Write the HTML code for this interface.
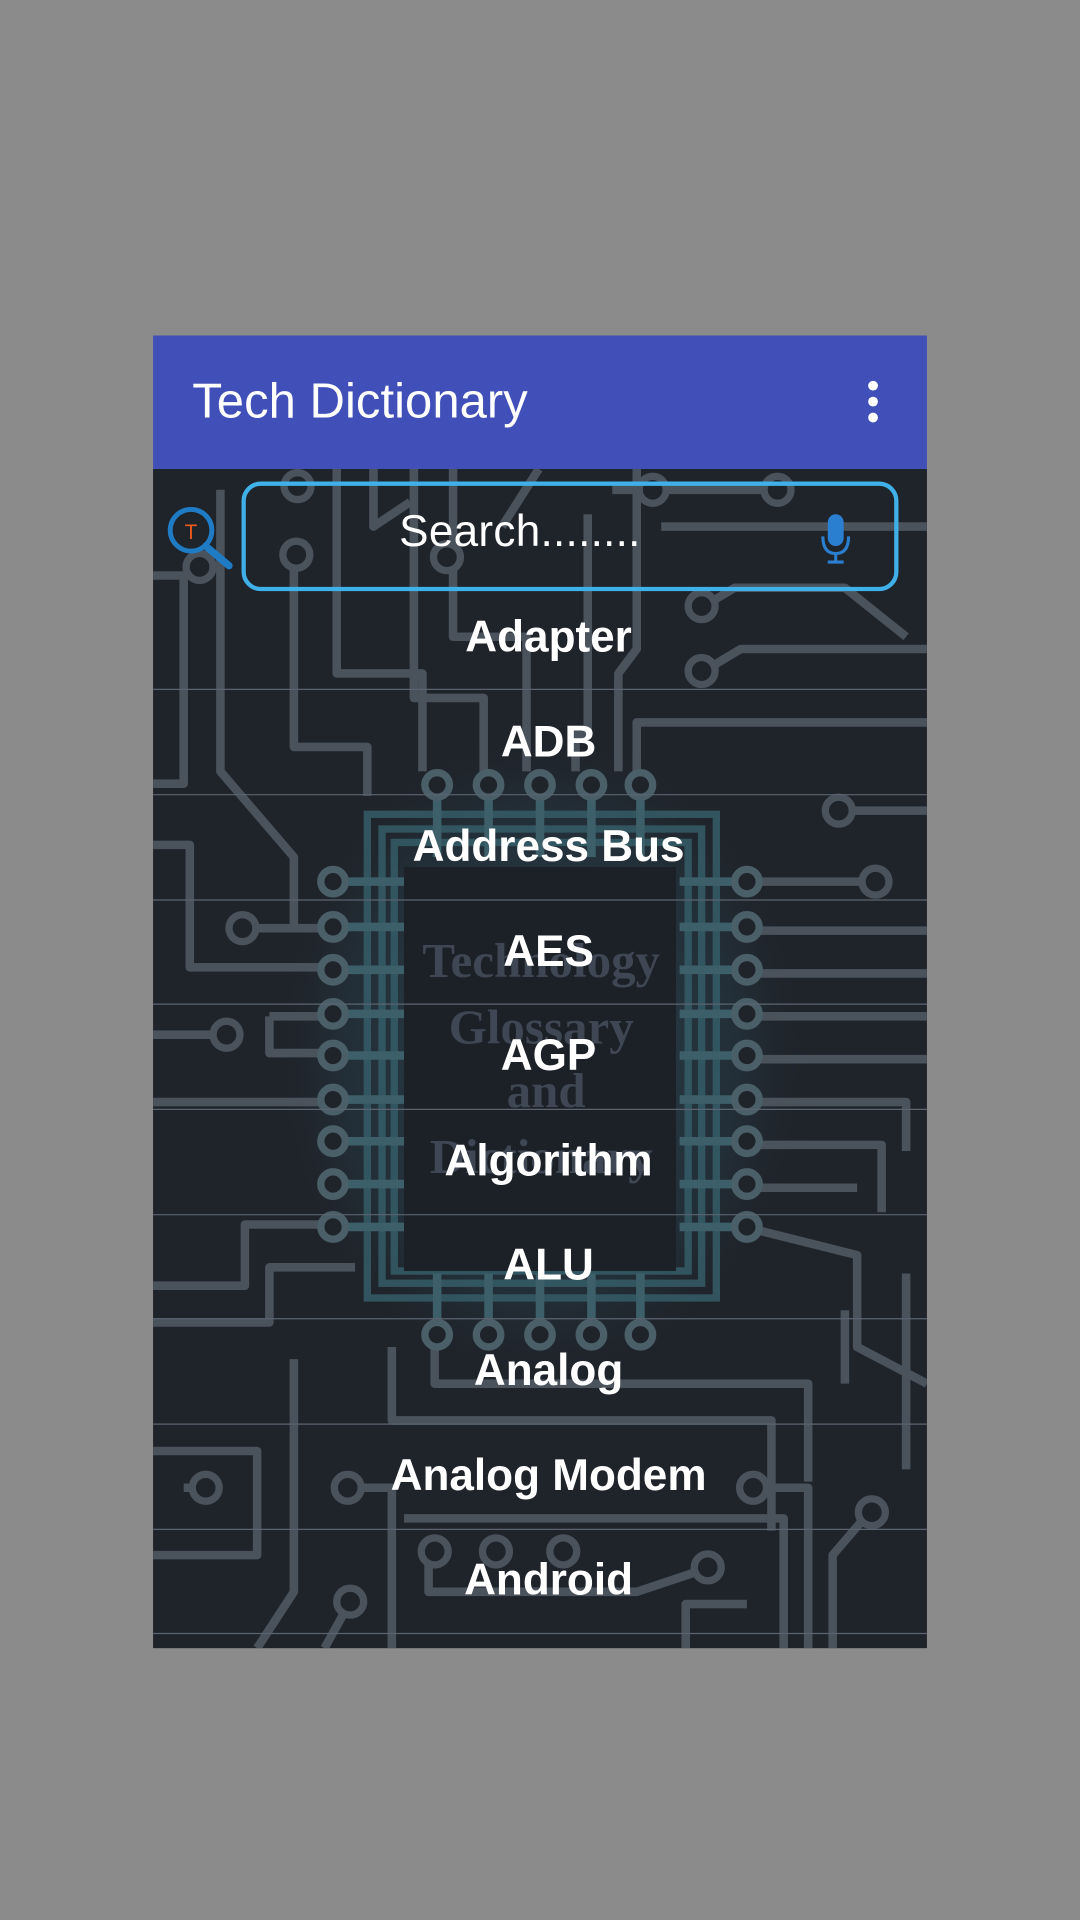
<!DOCTYPE html>
<html><head><meta charset="utf-8"><style>
html,body{margin:0;padding:0;width:1080px;height:1920px;background:#8a8b8a;overflow:hidden}
svg{display:block}
</style></head><body>
<svg width="1080" height="1920" viewBox="0 0 882 1568" xmlns="http://www.w3.org/2000/svg">
<defs>
<radialGradient id="glow" cx="50%" cy="50%" r="50%">
<stop offset="0" stop-color="#3a6a7a" stop-opacity="0.45"/>
<stop offset="0.7" stop-color="#2b4a58" stop-opacity="0.3"/>
<stop offset="1" stop-color="#1f232a" stop-opacity="0"/>
</radialGradient>
<clipPath id="c"><rect x="125" y="383" width="632" height="963"/></clipPath>
</defs>
<rect x="0" y="0" width="882" height="1568" fill="#8a8b8a"/>
<rect x="125" y="383" width="632" height="963" fill="#1f232a"/>
<g clip-path="url(#c)">
<ellipse cx="442" cy="862" rx="230" ry="280" fill="url(#glow)"/>
<g fill="none" stroke="#4a525c" stroke-width="7" stroke-linejoin="round">
<path d="M125 470 H150 V640 H125"/>
<path d="M180 400 V630 L240 700 V760"/>
<path d="M240 460 V610 H300 V650"/>
<path d="M275 383 V550 H345 V630"/>
<path d="M305 383 V430 L335 410"/>
<path d="M338 383 V570 H395 V630"/>
<path d="M370 383 V520 H430 V630"/>
<path d="M440 383 L410 430"/>
<path d="M480 420 V600 H470 V630"/>
<path d="M520 383 V530 L505 550 V630"/>
<path d="M500 400 H640"/>
<path d="M540 430 H757"/>
<path d="M575 495 L600 480 H690 L740 520"/>
<path d="M575 548 L605 530 H757"/>
<path d="M520 630 V590 H757"/>
<path d="M125 690 H155 V790 H260"/>
<path d="M200 758 H270"/>
<path d="M125 845 H180"/>
<path d="M220 830 H270 M220 830 V860 H270"/>
<path d="M125 900 H270"/>
<path d="M125 1050 H200 V1000 H270"/>
<path d="M125 1080 H220 V1035 H290"/>
<path d="M685 662 H757"/>
<path d="M620 720 H715"/>
<path d="M620 760 H757"/>
<path d="M620 795 H757"/>
<path d="M620 830 H757"/>
<path d="M620 865 H757"/>
<path d="M620 900 H740 V940"/>
<path d="M620 935 H720 V990"/>
<path d="M620 970 H700"/>
<path d="M620 1005 L700 1025 V1100 L757 1130"/>
<path d="M740 1040 V1200"/>
<path d="M690 1070 V1130"/>
<path d="M355 1100 V1130 H660 V1210"/>
<path d="M320 1100 V1160 H630 V1250"/>
<path d="M125 1185 H210 V1270 H125"/>
<path d="M150 1215 H170"/>
<path d="M240 1110 V1300 L210 1346"/>
<path d="M280 1215 H320 V1346"/>
<path d="M330 1240 H640 V1346"/>
<path d="M350 1265 V1300 H520 L580 1280"/>
<path d="M615 1215 H660 V1346"/>
<path d="M710 1235 L680 1270 V1346"/>
<path d="M285 1310 L265 1346"/>
<path d="M560 1346 V1310 H610"/>
</g>
<g fill="#1f232a" stroke="#4a525c" stroke-width="6">
<circle cx="242" cy="453" r="11"/><circle cx="163" cy="463" r="11"/><circle cx="243" cy="397" r="11"/>
<circle cx="365" cy="455" r="11"/><circle cx="533" cy="400" r="11"/><circle cx="635" cy="400" r="11"/>
<circle cx="573" cy="495" r="11"/><circle cx="573" cy="548" r="11"/><circle cx="685" cy="662" r="11"/>
<circle cx="715" cy="720" r="11"/><circle cx="198" cy="758" r="11"/><circle cx="185" cy="845" r="11"/>
<circle cx="168" cy="1215" r="11"/><circle cx="284" cy="1215" r="11"/><circle cx="615" cy="1215" r="11"/>
<circle cx="712" cy="1235" r="11"/><circle cx="355" cy="1267" r="11"/><circle cx="405" cy="1267" r="11"/>
<circle cx="460" cy="1267" r="11"/><circle cx="578" cy="1280" r="11"/><circle cx="286" cy="1308" r="11"/>
</g>
<g fill="none" stroke="#36606b" stroke-width="6" opacity="0.8">
<rect x="300" y="665" width="285" height="395"/>
<rect x="312" y="677" width="261" height="371"/>
<rect x="322" y="688" width="240" height="350"/>
</g>
<g stroke="#3d5f69" stroke-width="7">
<path d="M272 720 H330 M272 757 H330 M272 792 H330 M272 828 H330 M272 862 H330 M272 898 H330 M272 932 H330 M272 967 H330 M272 1002 H330"/>
<path d="M555 720 H610 M555 757 H610 M555 792 H610 M555 828 H610 M555 862 H610 M555 898 H610 M555 932 H610 M555 967 H610 M555 1002 H610"/>
<path d="M357 641 V700 M399 641 V700 M441 641 V700 M483 641 V700 M523 641 V700"/>
<path d="M357 1040 V1090 M399 1040 V1090 M441 1040 V1090 M483 1040 V1090 M523 1040 V1090"/>
</g>
<g fill="#1f232a" stroke="#4a5f68" stroke-width="6">
<circle cx="272" cy="720" r="10"/><circle cx="272" cy="757" r="10"/><circle cx="272" cy="792" r="10"/><circle cx="272" cy="828" r="10"/><circle cx="272" cy="862" r="10"/><circle cx="272" cy="898" r="10"/><circle cx="272" cy="932" r="10"/><circle cx="272" cy="967" r="10"/><circle cx="272" cy="1002" r="10"/>
<circle cx="610" cy="720" r="10"/><circle cx="610" cy="757" r="10"/><circle cx="610" cy="792" r="10"/><circle cx="610" cy="828" r="10"/><circle cx="610" cy="862" r="10"/><circle cx="610" cy="898" r="10"/><circle cx="610" cy="932" r="10"/><circle cx="610" cy="967" r="10"/><circle cx="610" cy="1002" r="10"/>
<circle cx="357" cy="641" r="10"/><circle cx="399" cy="641" r="10"/><circle cx="441" cy="641" r="10"/><circle cx="483" cy="641" r="10"/><circle cx="523" cy="641" r="10"/>
<circle cx="357" cy="1090" r="10"/><circle cx="399" cy="1090" r="10"/><circle cx="441" cy="1090" r="10"/><circle cx="483" cy="1090" r="10"/><circle cx="523" cy="1090" r="10"/>
</g>
<rect x="330" y="708" width="222" height="330" fill="#1c2027"/>
<g font-family="'Liberation Serif',serif" font-weight="bold" font-size="40" fill="#3e4753" text-anchor="middle">
<text x="442" y="798">Technology</text>
<text x="442" y="852">Glossary</text>
<text x="446" y="904">and</text>
<text x="442" y="958">Dictionary</text>
</g>
<g stroke="#5a6470" stroke-width="1">
<path d="M125 563 H757 M125 649 H757 M125 735 H757 M125 820 H757 M125 906 H757 M125 992 H757 M125 1077 H757 M125 1163 H757 M125 1249 H757 M125 1334 H757"/>
</g>
</g>
<rect x="125" y="274" width="632" height="109" fill="#4150b8"/>
<text x="157" y="341" font-family="'Liberation Sans',sans-serif" font-size="40" fill="#ffffff" textLength="274">Tech Dictionary</text>
<circle cx="713" cy="315" r="4" fill="#fff"/><circle cx="713" cy="328" r="4" fill="#fff"/><circle cx="713" cy="341" r="4" fill="#fff"/>
<rect x="199" y="395" width="533" height="86" rx="14" fill="none" stroke="#3fb0e8" stroke-width="3.5"/>
<text x="326" y="446" font-family="'Liberation Sans',sans-serif" font-size="36" fill="#ffffff" textLength="197">Search........</text>
<rect x="676" y="420" width="13" height="26" rx="6.5" fill="#2a7fd0"/>
<path d="M672 438 Q672 452 682.5 452 Q693 452 693 438" fill="none" stroke="#2a7fd0" stroke-width="2.5"/>
<path d="M682.5 452 V459 M676 459 H689" stroke="#2a7fd0" stroke-width="2.5"/>
<circle cx="156" cy="433" r="17" fill="none" stroke="#1f7bc4" stroke-width="4"/>
<path d="M168 446 L187 462" stroke="#1f7bc4" stroke-width="6" stroke-linecap="round"/>
<text x="156" y="440" font-family="'Liberation Sans',sans-serif" font-size="17" fill="#e85a1a" text-anchor="middle">T</text>
<g font-family="'Liberation Sans',sans-serif" font-weight="bold" font-size="36" fill="#ffffff" text-anchor="middle">
<text x="448" y="532">Adapter</text>
<text x="448" y="618">ADB</text>
<text x="448" y="703">Address Bus</text>
<text x="448" y="789">AES</text>
<text x="448" y="874">AGP</text>
<text x="448" y="960">Algorithm</text>
<text x="448" y="1045">ALU</text>
<text x="448" y="1131">Analog</text>
<text x="448" y="1217">Analog Modem</text>
<text x="448" y="1302">Android</text>
</g>
</svg>
</body></html>
